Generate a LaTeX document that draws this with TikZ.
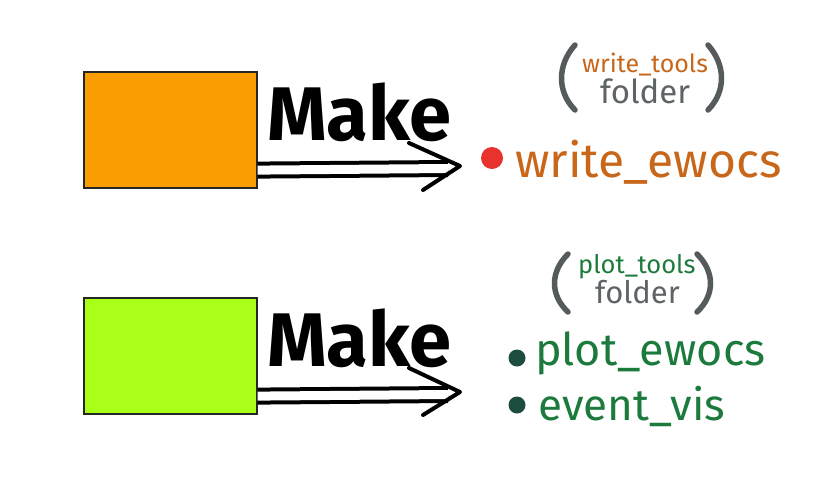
\documentclass[tikz,border=0pt]{standalone}
\usepackage{fontspec}
\setmainfont{Fira Sans}
\usepackage{xcolor}
\usepackage{tikz}
\usetikzlibrary{calc,positioning}
\definecolor{boxorange}{HTML}{F99D00}
\definecolor{boxgreen}{HTML}{AAFF19}
\definecolor{txtorange}{HTML}{C8661A}
\definecolor{txtgreen}{HTML}{1C7A3C}
\definecolor{dotteal}{HTML}{1D4D40}
\definecolor{dotred}{HTML}{E8322E}
\definecolor{parengray}{HTML}{555A5C}
\definecolor{foldergray}{HTML}{5E6366}

\begin{document}
\begin{tikzpicture}[x=1pt,y=-1pt,
  makebox/.style={draw=black!85, line width=1.6pt, minimum width=173pt, minimum height=116pt, anchor=north west, inner sep=0pt},
  dbl/.style={double, double distance=9pt, line width=4pt},
  chev/.style={line width=4pt, line cap=round, line join=round},
  paren/.style={draw=parengray, line width=5.5pt, line cap=round},
  txt/.style={anchor=base west, inner sep=0pt},
  bullet/.style={circle, fill, inner sep=0pt}]
	\useasboundingbox (0,0) rectangle (839,483);
	\node[makebox, fill=boxorange] (writebox) at (83,71) {};
	\node[makebox, fill=boxgreen] (plotbox) at (83,297) {};
	\coordinate (wtip) at (460,166);
	\coordinate (ptip) at (460,392);
	\draw[dbl] ($(writebox.south east)+(0,-18.5)$) -- ($(wtip)+(-12,2.5)$);
	\draw[chev] ($(wtip)+(-51,-23)$) -- (wtip) -- ($(wtip)+(-37,24)$);
	\draw[dbl] ($(plotbox.south east)+(0,-18.5)$) -- ($(ptip)+(-12,2.5)$);
	\draw[chev] ($(ptip)+(-51,-24)$) -- (ptip) -- ($(ptip)+(-37,23)$);
	\node[txt, font=\fontsize{76}{76}\selectfont\bfseries] (wmake) at (267,140) {Make};
	\node[txt, font=\fontsize{76}{76}\selectfont\bfseries] (pmake) at (267,366) {Make};
	% write side
	\draw[paren] (575,45) .. controls (557,65) and (557,92) .. (575,110);
	\draw[paren] (708,45) .. controls (726,65) and (726,92) .. (708,110);
	\node[txt, txtorange, font=\fontsize{25}{25}\selectfont] (wfolder) at (582,72) {write\_tools};
	\node[txt, foldergray, font=\fontsize{33}{33}\selectfont] (wfoldername) at (600,103) {folder};
	\node[bullet, dotred, minimum size=22pt] (wdot) at (492,158) {};
	\node[txt, txtorange, font=\fontsize{48}{48}\selectfont\mdseries] (wewocs) at (515,177) {write\_ewocs};
	% plot side
	\draw[paren] (568,254) .. controls (550,272) and (550,295) .. (568,312);
	\draw[paren] (697,254) .. controls (715,272) and (715,295) .. (697,312);
	\node[txt, txtgreen, font=\fontsize{25.5}{25.5}\selectfont] (pfolder) at (578,273) {plot\_tools};
	\node[txt, foldergray, font=\fontsize{31}{31}\selectfont] (pfoldername) at (595,303) {folder};
	\node[bullet, dotteal, minimum size=17pt] (pdot) at (517,358) {};
	\node[bullet, dotteal, minimum size=17pt] (edot) at (517,405) {};
	\node[txt, txtgreen, font=\fontsize{45}{45}\selectfont] (pewocs) at (535,365) {plot\_ewocs};
	\node[txt, txtgreen, font=\fontsize{44}{44}\selectfont] (evis) at (538,420) {event\_vis};
\end{tikzpicture}
\end{document}
